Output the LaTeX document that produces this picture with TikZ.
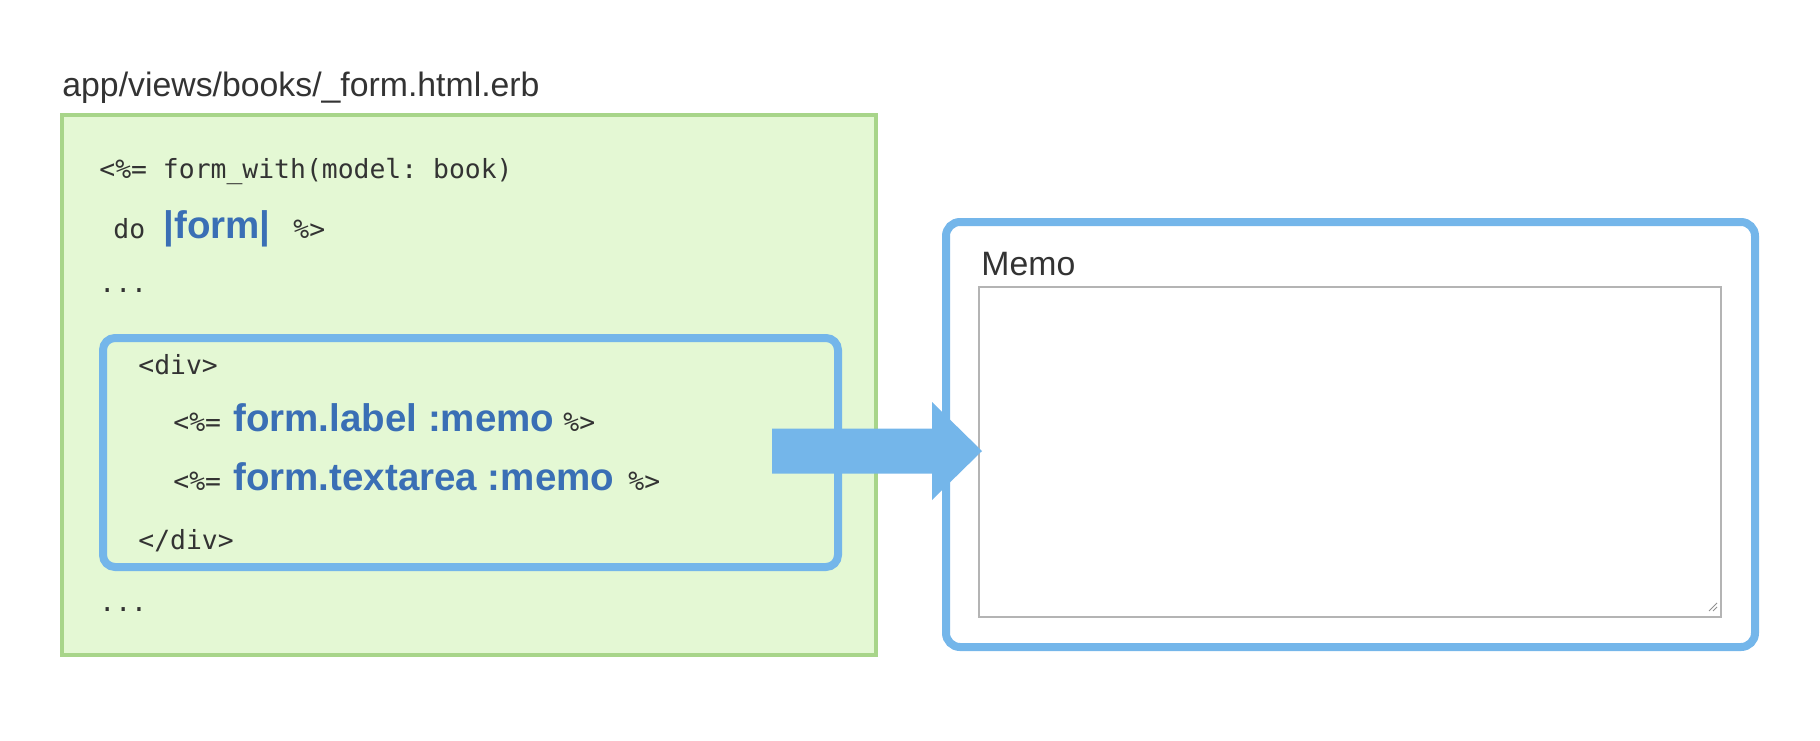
\documentclass[tikz,border=0pt]{standalone}
\usepackage{fontspec}
\setmainfont{Liberation Sans}
\setmonofont{DejaVu Sans Mono}

\definecolor{boxgreen}{HTML}{A8D58A}
\definecolor{fillgreen}{HTML}{E4F8D4}
\definecolor{boxblue}{HTML}{74B6EA}
\definecolor{textblue}{HTML}{3A6FB5}
\definecolor{codegray}{HTML}{333333}
\definecolor{areagray}{HTML}{B4B4B4}

\tikzset{
  code/.style={anchor=base west, inner sep=0pt, text=codegray,
    font=\fontsize{13.2}{15}\selectfont\ttfamily},
  bluecode/.style={anchor=base west, inner sep=0pt, text=textblue,
    font=\fontsize{19.25}{22}\selectfont\bfseries},
  caption/.style={anchor=base west, inner sep=0pt, text=codegray,
    font=\fontsize{16.9}{19}\selectfont},
}

\begin{document}
\begin{tikzpicture}[x=0.5pt,y=-0.5pt]
\def\blueline{4pt};
\useasboundingbox (0,0) rectangle (1820,740);

% left: the erb file
\node[caption] (path) at (62,96) {app/views/books/\_form.html.erb};
\draw [boxgreen, fill=fillgreen, line width=2pt] (62,115) rectangle (876,655);
\draw [boxblue, line width=\blueline, rounded corners=6pt] (103,338) rectangle (838,567);

\node[code] (open) at (99,178.5) {<\%= form\_with(model: book)};
\node[code] (do) at (113,238) {do};
\node[bluecode] (formvar) at (163,238) {|form|};
\node[code] (close) at (293,238) {\%>};
\node[code] (dotsA) at (99,292) {...};

\node[code] (divopen) at (138,374.5) {<div>};
\foreach \y/\name/\txt/\xend in {431.7/label/form.label :memo/563, 490/area/form.textarea :memo/628}{
\node[code] (open\name) at (173,\y) {<\%=};
\node[bluecode] (call\name) at (233,\y) {\txt};
\node[code] (close\name) at (\xend,\y) {\%>};
}
\node[code] (divclose) at (138,549.5) {</div>};
\node[code] (dotsB) at (99,611) {...};

% right: the rendered field
\draw [boxblue, fill=white, line width=\blueline, rounded corners=7pt] (946,222) rectangle (1755,647);
\node[caption] (memo) at (981,275) {Memo};
\draw [areagray, line width=0.75pt] (979,287) rectangle (1721,617);
\draw [areagray!80!black, line width=0.5pt] (1717,603) -- (1709,611) (1717,607) -- (1713,611);

% big arrow
\coordinate (tail) at (772,451);
\coordinate (tip) at (982,451);
\fill [boxblue] (tail) ++(0,-22.5) -- ++(160,0) -- ++(0,-26.5) -- (tip)
  -- ++(-50,49) -- ++(0,-26.5) -- ++(-160,0) -- cycle;

\end{tikzpicture}
\end{document}
